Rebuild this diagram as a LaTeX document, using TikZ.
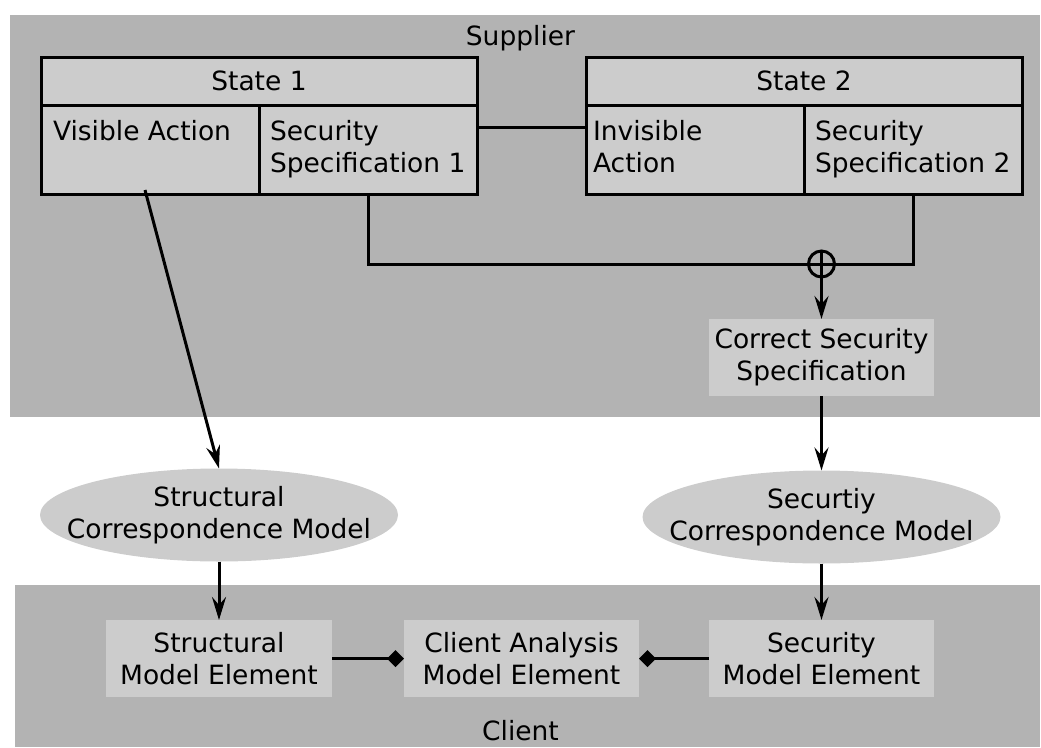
\documentclass[tikz,border=0pt]{standalone}
\usepackage{fontspec}
\setmainfont{DejaVu Sans}
\usetikzlibrary{arrows.meta,shapes.geometric,calc}
\definecolor{zonegray}{HTML}{B3B3B3}
\definecolor{cellgray}{HTML}{CCCCCC}
\begin{document}
\begin{tikzpicture}[x=1pt,y=-1pt,
  every node/.style={font=\fontsize{26.5}{32}\selectfont, outer sep=0pt},
  zone/.style={fill=zonegray, draw=none},
  cellbox/.style={draw, line width=3pt, fill=cellgray, inner sep=0pt, anchor=north west},
  celltext/.style={anchor=north west, inner sep=0pt, align=left},
  plainbox/.style={fill=cellgray, draw=none, inner sep=0pt, align=center},
  model/.style={ellipse, fill=cellgray, draw=none, inner sep=0pt, minimum width=358pt, minimum height=93pt},
  wire/.style={line width=3pt},
  flow/.style={wire, -{Stealth[length=23pt,width=14pt,inset=8pt]}},
  part/.style={wire, -{Diamond[length=17pt,width=17pt]}}
]
\useasboundingbox (0,0) rectangle (1041,747);

% Supplier and client zones
\fill[zone] (10,15) rectangle (1040,417);
\fill[zone] (15,585) rectangle (1040,747);
\node (suplabel) at (520.5,38) {Supplier};
\node (clilabel) at (520.5,731) {Client};

% State 1
\node[cellbox, minimum width=436pt, minimum height=48pt] (s1h) at (41,57) {State 1};
\node[cellbox, minimum width=218pt, minimum height=89pt] (va) at (41,105) {};
\node[cellbox, minimum width=218pt, minimum height=89pt] (spec1) at (259,105) {};
\node[celltext] (vat) at ([xshift=12pt,yshift=-15pt]va.north west) {Visible Action};
\node[celltext] (spec1t) at ([xshift=11pt,yshift=-15pt]spec1.north west) {Security\\Specification 1};

% State 2
\node[cellbox, minimum width=436pt, minimum height=48pt] (s2h) at (586,57) {State 2};
\node[cellbox, minimum width=218pt, minimum height=89pt] (inv) at (586,105) {};
\node[cellbox, minimum width=218pt, minimum height=89pt] (spec2) at (804,105) {};
\node[celltext] (invt) at ([xshift=7pt,yshift=-15pt]inv.north west) {Invisible\\Action};
\node[celltext] (spec2t) at ([xshift=11pt,yshift=-15pt]spec2.north west) {Security\\Specification 2};

% transition between the states
\draw[wire] ([yshift=-22pt]spec1.north east) -- ([yshift=-22pt]inv.north west);

% combination of the two specifications
\node[circle, draw, line width=3pt, minimum size=26pt, inner sep=0pt] (j) at (821.5,264) {};
\draw[wire] (j.north) -- (j.south) (j.west) -- (j.east);
\draw[wire] (spec1.south) |- (j.west);
\draw[wire] (spec2.south) |- (j.east);

\node[plainbox, minimum width=225pt, minimum height=77pt] (css) at (821.5,357.5) {Correct Security\\Specification};
\draw[flow] (j.south) -- (css.north);

% correspondence models
\node[model, label={[align=center]center:Structural\\Correspondence Model}] (stcm) at (219,515) {};
\node[model, label={[align=center]center:Securtiy\\Correspondence Model}] (secm) at (821.5,517) {};

\draw[flow] ([xshift=104pt,yshift=4pt]va.south west) -- (stcm.north);
\draw[flow] (css.south) -- (secm.north);

% client model elements
\node[plainbox, minimum width=226pt, minimum height=77pt] (stme) at (219,658.5) {Structural\\Model Element};
\node[plainbox, minimum width=235pt, minimum height=77pt] (cam) at (521.5,658.5) {Client Analysis\\Model Element};
\node[plainbox, minimum width=225pt, minimum height=77pt] (sme) at (821.5,658.5) {Security\\Model Element};

\draw[flow] (stcm.south) -- (stme.north);
\draw[flow] (secm.south) -- (sme.north);
\draw[part] (stme.east) -- (cam.west);
\draw[part] (sme.west) -- (cam.east);
\end{tikzpicture}
\end{document}
